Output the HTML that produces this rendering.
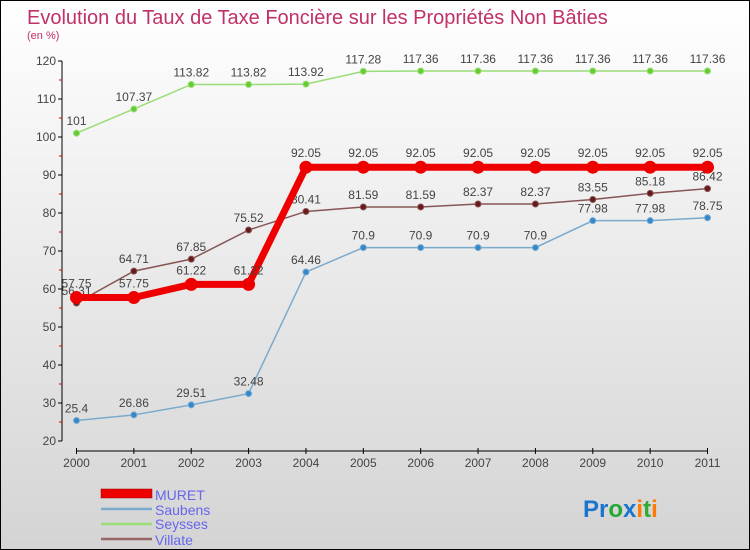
<!DOCTYPE html>
<html><head><meta charset="utf-8"><style>
body{margin:0;}
#c{width:748px;height:548px;border:1px solid #000;background:linear-gradient(#fff,#f4f4f4 25%,#d4d4d4);position:relative;font-family:"Liberation Sans",sans-serif;overflow:hidden}
</style></head><body>
<div id="c">
<svg id="s" width="748" height="548" style="position:absolute;left:0;top:0">
<text x="26" y="23" font-size="20" fill="#c0306a">Evolution du Taux de Taxe Foncière sur les Propriétés Non Bâties</text>
<text x="26" y="38" font-size="11" fill="#c0306a">(en %)</text>
<g id="axes"></g><g id="series"></g>
<g>
<rect x="100" y="488" width="51" height="9" fill="#e00" stroke="#900" stroke-width="0.5"/>
<text x="154" y="499" font-size="14" fill="#6666ee">MURET</text>
<line x1="100" y1="508" x2="151" y2="508" stroke="#7aaacc" stroke-width="2.5"/>
<text x="154" y="514" font-size="14" fill="#6666ee">Saubens</text>
<line x1="100" y1="523" x2="151" y2="523" stroke="#99dd77" stroke-width="2.5"/>
<text x="154" y="528" font-size="14" fill="#6666ee">Seysses</text>
<line x1="100" y1="538" x2="151" y2="538" stroke="#996666" stroke-width="2.5"/>
<text x="154" y="544" font-size="14" fill="#6666ee">Villate</text>
</g>
<text x="582" y="516" font-size="24" font-weight="bold"><tspan fill="#1a75d1">Pr</tspan><tspan fill="#22aa33">o</tspan><tspan fill="#1a75d1">x</tspan><tspan fill="#ff7a00">i</tspan><tspan fill="#33aa33">t</tspan><tspan fill="#ff7a00">i</tspan></text>
</svg>
</div>
<script>
const years=["2000","2001","2002","2003","2004","2005","2006","2007","2008","2009","2010","2011"];
const yTicks=[20,30,40,50,60,70,80,90,100,110,120];
const muret=[57.75,57.75,61.22,61.22,92.05,92.05,92.05,92.05,92.05,92.05,92.05,92.05];
const saubens=[25.4,26.86,29.51,32.48,64.46,70.9,70.9,70.9,70.9,77.98,77.98,78.75];
const seysses=[101,107.37,113.82,113.82,113.92,117.28,117.36,117.36,117.36,117.36,117.36,117.36];
const villate=[56.31,64.71,67.85,75.52,80.41,81.59,81.59,82.37,82.37,83.55,85.18,86.42];
const NS="http://www.w3.org/2000/svg";
const X=i=>75.5+i*(631/11);
const Y=v=>440-(v-20)*3.8;
function mk(t,a,p){const e=document.createElementNS(NS,t);for(const k in a)e.setAttribute(k,a[k]);p.appendChild(e);return e;}
const ax=document.getElementById('axes');
mk('line',{x1:61,y1:60,x2:61,y2:440,stroke:'#000'},ax);
yTicks.forEach(v=>{
 mk('line',{x1:57,y1:Y(v),x2:61,y2:Y(v),stroke:'#000'},ax);
 if(v<120)mk('line',{x1:58,y1:Y(v+5),x2:61,y2:Y(v+5),stroke:'#d00'},ax);
 const t=mk('text',{x:55,y:Y(v)+4,'text-anchor':'end','font-size':12,fill:'#444'},ax);
 
 
 t.textContent=v;
});
mk('line',{x1:75.5,y1:450,x2:706.5,y2:450,stroke:'#000'},ax);
years.forEach((y,i)=>{
 mk('line',{x1:X(i),y1:447,x2:X(i),y2:453,stroke:'#000'},ax);
 const t=mk('text',{x:X(i),y:466,'text-anchor':'middle','font-size':12,fill:'#444'},ax);
 
 
 t.textContent=y;
});
const sg=document.getElementById('series');
function draw(name,vals,col,dot,w,r,dy){
 const g=mk('g',{},sg);
 
 
 mk('polyline',{points:vals.map((v,i)=>X(i)+','+Y(v)).join(' '),fill:'none',stroke:col,'stroke-width':w},g);
 vals.forEach((v,i)=>{
  const c=mk('circle',{cx:X(i),cy:Y(v),r:r,fill:dot,stroke:col,'stroke-width':1},g);
  
  
  const t=mk('text',{x:X(i),y:Y(v)+dy,'text-anchor':'middle','font-size':12,fill:'#444'},g);
  
  
  t.textContent=v;
 });
}
draw('saubens',saubens,'#7aaacc','#3388cc',1.5,3,-8);
draw('seysses',seysses,'#99dd77','#66cc33',1.5,3,-8);
draw('villate',villate,'#885555','#661a1a',1.5,3,-8);
draw('muret',muret,'#ee0000','#ee0000',7,6,-10);
</script>
</body></html>
